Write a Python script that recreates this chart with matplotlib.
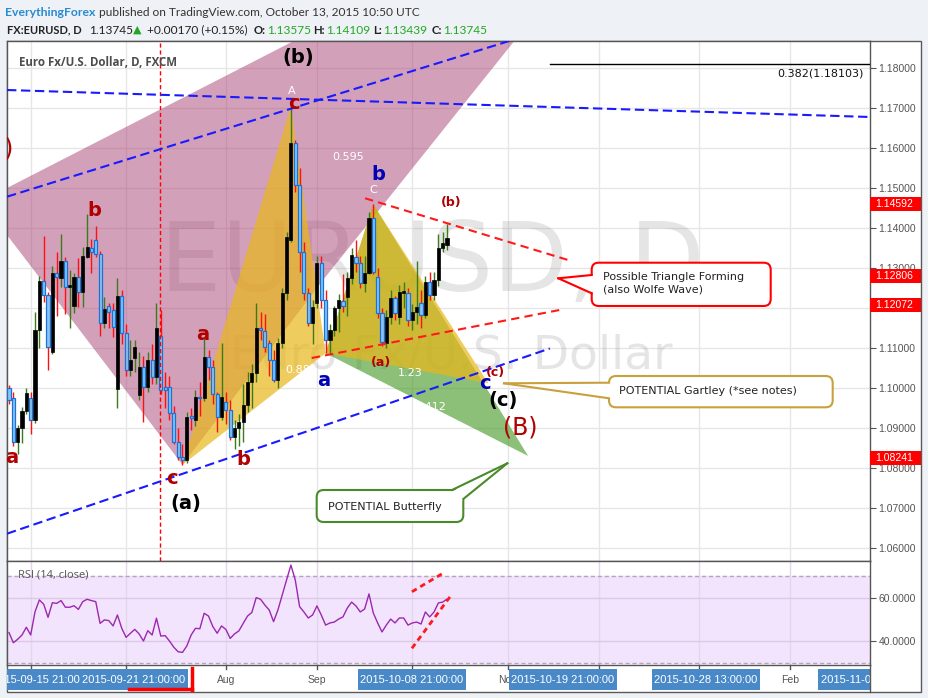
import matplotlib
matplotlib.use("Agg")
import matplotlib.pyplot as plt
import numpy as np
from matplotlib.patches import Rectangle, Polygon, FancyBboxPatch
from matplotlib.lines import Line2D
from matplotlib.transforms import (Affine2D, blended_transform_factory, Bbox,
                                   TransformedBbox, IdentityTransform)

W, H = 929, 698

# ---------------- data (daily EURUSD, 2015-05-25 .. 2015-10-13) ----------------
opens = [1.1000,1.0975,1.0865,1.0900,1.0943,1.0975,1.0920,1.1145,1.1268,1.1232,
         1.1090,1.1288,1.1275,1.1318,1.1253,1.1205,1.1278,1.1240,1.1328,1.1350,
         1.1370,1.1335,1.1162,1.1205,1.1195,1.0998,1.1230,1.1138,1.1045,1.1075,
         1.0983,1.1053,1.1003,1.1070,1.1028,1.1130,1.1003,1.1003,1.0938,1.0865,
         1.0828,1.0820,1.0930,1.0920,1.0978,1.0975,1.1078,1.1053,1.0985,1.0928,
         1.0965,1.0945,1.0878,1.0900,1.0915,1.0958,1.1015,1.1038,1.1150,1.1143,
         1.1113,1.1070,1.1020,1.1113,1.1238,1.1370,1.1612,1.1507,1.1340,1.1238,
         1.1162,1.1212,1.1312,1.1220,1.1120,1.1145,1.1200,1.1218,1.1228,1.1275,
         1.1328,1.1312,1.1262,1.1288,1.1425,1.1278,1.1188,1.1112,1.1178,1.1225,
         1.1178,1.1238,1.1238,1.1170,1.1190,1.1213,1.1183,1.1265,1.1233,1.1270,
         1.1350,1.13575]
highs = [1.1008,1.0990,1.0908,1.0953,1.1000,1.0990,1.1190,1.1280,1.1380,1.1240,
         1.1305,1.1340,1.1385,1.1328,1.1295,1.1288,1.1325,1.1353,1.1435,1.1373,
         1.1405,1.1343,1.1228,1.1213,1.1213,1.1275,1.1245,1.1160,1.1120,1.1120,
         1.1090,1.1080,1.1090,1.1110,1.1213,1.1195,1.1040,1.1030,1.0955,1.0900,
         1.0860,1.0940,1.0950,1.0995,1.1015,1.1125,1.1095,1.1070,1.0990,1.1113,
         1.0990,1.0970,1.0920,1.0935,1.1010,1.1040,1.1060,1.1213,1.1190,1.1185,
         1.1120,1.1095,1.1125,1.1250,1.1390,1.1705,1.1620,1.1550,1.1365,1.1250,
         1.1220,1.1330,1.1330,1.1245,1.1160,1.1205,1.1235,1.1285,1.1290,1.1350,
         1.1370,1.1330,1.1330,1.1440,1.1459,1.1300,1.1200,1.1195,1.1245,1.1230,
         1.1258,1.1265,1.1250,1.1210,1.1317,1.1245,1.1280,1.1290,1.1290,1.1385,
         1.1390,1.14109]
lows = [1.0960,1.0855,1.0835,1.0863,1.0935,1.0885,1.0912,1.1100,1.1215,1.1045,
        1.1085,1.1180,1.1252,1.1185,1.1150,1.1188,1.1203,1.1203,1.1325,1.1288,
        1.1328,1.1130,1.1150,1.1150,1.1128,1.0950,1.1110,1.1030,1.1030,1.1040,
        1.0970,1.0915,1.0990,1.1010,1.1010,1.0985,1.0950,1.0920,1.0860,1.0820,
        1.0808,1.0812,1.0895,1.0905,1.0930,1.0968,1.1020,1.0960,1.0890,1.0920,
        1.0910,1.0870,1.0848,1.0855,1.0865,1.0940,1.0950,1.1015,1.1120,1.1090,
        1.1030,1.1015,1.1000,1.1100,1.1220,1.1365,1.1490,1.1290,1.1220,1.1155,
        1.1110,1.1200,1.1200,1.1087,1.1087,1.1130,1.1140,1.1190,1.1180,1.1260,
        1.1290,1.1250,1.1240,1.1285,1.1285,1.1175,1.1105,1.1100,1.1160,1.1170,
        1.1160,1.1200,1.1155,1.1145,1.1160,1.1150,1.1175,1.1220,1.1220,1.1255,
        1.1340,1.13439]
closes = [1.0970,1.0865,1.0900,1.0943,1.0988,1.0920,1.1145,1.1268,1.1232,1.1102,
          1.1288,1.1278,1.1318,1.1253,1.1258,1.1278,1.1240,1.1330,1.1353,1.1340,
          1.1335,1.1162,1.1198,1.1190,1.1153,1.1230,1.1138,1.1045,1.1070,1.1103,
          1.1053,1.1003,1.1070,1.1028,1.1150,1.0995,1.0995,1.0938,1.0865,1.0828,
          1.0820,1.0928,1.0926,1.0978,1.0975,1.1078,1.1053,1.0985,1.0928,1.0978,
          1.0945,1.0878,1.0900,1.0915,1.0958,1.1015,1.1038,1.1150,1.1145,1.1103,
          1.1070,1.1020,1.1113,1.1238,1.1378,1.1612,1.1507,1.1340,1.1238,1.1162,
          1.1203,1.1312,1.1220,1.1120,1.1145,1.1200,1.1220,1.1205,1.1275,1.1332,
          1.1312,1.1262,1.1288,1.1425,1.1290,1.1188,1.1115,1.1178,1.1225,1.1188,
          1.1240,1.1242,1.1170,1.1190,1.1202,1.1183,1.1265,1.1233,1.1270,1.1350,
          1.1362,1.13745]
rsi = [43.9,39.2,40.8,42.8,46.4,42.8,53.6,59.1,57.1,51.0,
       57.8,57.5,58.8,55.7,55.7,56.4,54.7,58.3,59.4,58.8,
       58.3,48.2,49.8,49.5,47.0,52.1,45.9,41.7,43.6,45.4,
       43.3,40.0,44.8,42.8,50.6,42.3,42.5,40.0,37.1,35.0,
       34.7,37.7,42.8,45.9,45.7,52.9,51.6,46.7,43.6,47.0,
       45.4,41.2,43.3,44.7,48.2,51.6,53.3,60.2,59.4,56.7,
       54.4,49.0,54.4,61.4,68.4,75.3,68.4,56.0,53.5,50.7,
       52.1,56.3,52.1,47.4,48.4,48.8,50.2,51.2,55.3,58.1,
       56.3,53.5,54.9,61.9,53.0,48.4,44.2,47.4,50.2,48.4,
       50.7,50.7,47.4,48.4,48.8,47.9,53.5,51.2,53.5,57.7,
       58.1,59.5]

price_ticks = [1.06, 1.07, 1.08, 1.09, 1.10, 1.11, 1.12, 1.13, 1.14, 1.15, 1.16, 1.17, 1.18]
rsi_ticks = [40, 60]
month_idx = [5, 27, 50, 71, 93, 115, 136, 159, 180]
month_labels = ["Jun", "Jul", "Aug", "Sep", "Oct", "Nov", "Dec", "2016", "Feb"]
price_flags = [1.14592, 1.12806, 1.12072, 1.08241]
date_flags = ["2015-09-15 21:00:00", "2015-09-21 21:00:00", "2015-10-08 21:00:00",
              "2015-10-19 21:00:00", "2015-10-28 13:00:00", "2015-11-02 21:00:00"]
date_flag_px = [44, 134, 412, 563, 706, 872]

# drawings (day index, price)
pink_poly = [(-10, 1.1447), (151.9, 1.2347), (72.4, 1.1270), (40, 1.0808), (-10, 1.1518)]
gartley_xab = [(40, 1.0808), (65, 1.1705), (73, 1.1087)]
gartley_bcd = [(73, 1.1087), (84, 1.1459), (110.5, 1.1012)]
butterfly_bcd = [(73, 1.1087), (84, 1.1459), (119.7, 1.0830)]
blue_lines = [[(-0.46, 1.1745), (198.6, 1.16775)],
              [(-0.46, 1.14783), (125, 1.1900)],
              [(-0.46, 1.06358), (124.7, 1.10988)]]
red_lines = [[(82.1, 1.14743), (128.9, 1.1320)],
             [(69.8, 1.1075), (127.8, 1.11968)]]
rsi_red_lines = [[(92.9, 62.9), (99.8, 71.2)], [(92.9, 36.6), (101.7, 60.6)]]
fib_level = 1.18103
vline_idx = 34.8

idx = np.arange(len(opens))
O, Hh, L, C = map(np.array, (opens, highs, lows, closes))

# ---------------- figure ----------------
fig = plt.figure(figsize=(W / 100, H / 100), dpi=100, facecolor="#eef1f5")
PX = Affine2D().scale(1, -1).translate(0, H)

def fr(x0, y0, x1, y1):
    return [x0 / W, 1 - y1 / H, (x1 - x0) / W, (y1 - y0) / H]

fig.add_artist(Rectangle((7, 41), 914, 651, transform=PX, fc="white",
                         ec="#5a5a5a", lw=1, zorder=-5))

ax = fig.add_axes(fr(7, 41, 870, 561))
rax = fig.add_axes(fr(7, 561, 870, 665))
for a in (ax, rax):
    a.set_xlim(-0.461, 198.52)
    a.set_facecolor("white")
    for s in a.spines.values():
        s.set_color("#555555")
        s.set_linewidth(1)
ax.set_ylim(1.05675, 1.18675)
rax.set_ylim(28.84, 77.2)

AXF = "Liberation Sans"
UIF = "DejaVu Sans"

# axis ticks
ax.yaxis.tick_right()
ax.set_yticks(price_ticks)
ax.set_yticklabels([f"{p:.5f}" for p in price_ticks])
ax.set_xticks([])
ax.tick_params(axis="y", length=4, color="#555555", labelsize=7.5,
               labelcolor="#555555", pad=2)
for t in ax.get_yticklabels():
    t.set_family(AXF)
rax.yaxis.tick_right()
rax.set_yticks(rsi_ticks)
rax.set_yticklabels([f"{v:.4f}" for v in rsi_ticks])
rax.set_xticks([])
rax.tick_params(axis="y", length=4, color="#555555", labelsize=7.5,
                labelcolor="#555555", pad=2)
for t in rax.get_yticklabels():
    t.set_family(AXF)

# grid
for p in price_ticks:
    ax.axhline(p, color="#e6e6e6", lw=1, zorder=0)
for m in month_idx:
    ax.axvline(m, color="#e6e6e6", lw=1, zorder=0)

# watermark
ax.text(97.5, 1.1308, "EURUSD, D", fontsize=70, color="#808080", alpha=0.2,
        ha="center", va="center", family=UIF, zorder=0.5)
ax.text(102, 1.1080, "Euro Fx/U.S. Dollar", fontsize=34, color="#808080", alpha=0.2,
        ha="center", va="center", family=UIF, zorder=0.5)

# shapes
ax.add_patch(Polygon(pink_poly, closed=True, fc=(159/255, 44/255, 102/255), alpha=0.45,
                     ec="none", zorder=1))
ax.add_patch(Polygon(butterfly_bcd, closed=True, fc=(63/255, 150/255, 30/255), alpha=0.6,
                     ec="none", zorder=1.1))
for tri in (gartley_xab, gartley_bcd):
    ax.add_patch(Polygon(tri, closed=True, fc=(233/255, 183/255, 26/255), alpha=0.7,
                         ec="none", zorder=1.2))

# white pattern labels
for x, y, s, ha in [(65.3, 1.17425, "A", "center"), (83.9, 1.1495, "C", "center"),
                    (74.5, 1.15775, "0.595", "left"), (92.5, 1.10375, "1.23", "center"),
                    (63.6, 1.1045, "0.886", "left"), (101.0, 1.09525, "1.412", "right")]:
    ax.text(x, y, s, color="white", fontsize=8, ha=ha, va="center", family=UIF, zorder=1.5)

# candles
up = C >= O
wick_col = np.where(up, "#3d7a1c", "#ff1010")
ax.vlines(idx, L, Hh, colors=wick_col, lw=1, zorder=2)
body_bottom = np.minimum(O, C)
body_h = np.maximum(np.abs(C - O), 0.00025)
ax.bar(idx[up], body_h[up], bottom=body_bottom[up], width=0.72, color="black",
       edgecolor="black", lw=0.5, zorder=3)
ax.bar(idx[~up], body_h[~up], bottom=body_bottom[~up], width=0.72, color="#8cc3f0",
       edgecolor="#1a72d8", lw=0.9, zorder=3)

# lines
ax.axvline(vline_idx, color="#ff0000", lw=1, ls=(0, (3, 2)), zorder=4)
for seg in blue_lines:
    (x0, y0), (x1, y1) = seg
    ax.plot([x0, x1], [y0, y1], color="#1a1aff", lw=1.5, ls=(0, (4.5, 2.2)), zorder=4)
for seg in red_lines:
    (x0, y0), (x1, y1) = seg
    ax.plot([x0, x1], [y0, y1], color="#ff1a1a", lw=1.5, ls=(0, (4, 2.5)), zorder=4)
ax.plot([124.7, 198.6], [fib_level, fib_level], color="black", lw=1, zorder=4)
ax.text(197.0, fib_level - 0.0023, f"0.382({fib_level:.5f})", fontsize=8,
        ha="right", va="center", family=UIF, color="#111111", zorder=4)

ax.text(2.2, 1.0608 + 0.1206, "Euro Fx/U.S. Dollar, D, FXCM", fontsize=8.3,
        fontweight="bold", color="#4d4d4d", family="Open Sans", ha="left", va="center",
        zorder=6)

# wave labels
RED, BLUE, BLK = "#b00000", "#0000b4", "#000000"
labels = [
    (66.6, 1.1825, "(b)", BLK, 14, "bold"), (65.7, 1.17125, "c", RED, 14, "bold"),
    (85.1, 1.1535, "b", BLUE, 14, "bold"), (101.9, 1.1465, "(b)", RED, 9, "bold"),
    (19.6, 1.1445, "b", RED, 14, "bold"), (44.7, 1.1135, "a", RED, 14, "bold"),
    (0.7, 1.08275, "a", RED, 14, "bold"), (37.6, 1.0775, "c", RED, 14, "bold"),
    (40.8, 1.07125, "(a)", BLK, 14, "bold"), (54.0, 1.08225, "b", RED, 14, "bold"),
    (72.6, 1.1020, "a", BLUE, 14, "bold"), (85.8, 1.1065, "(a)", RED, 9, "bold"),
    (112.1, 1.1040, "(c)", RED, 9, "bold"), (109.8, 1.10125, "c", BLUE, 14, "bold"),
    (113.9, 1.0970, "(c)", BLK, 14, "bold"), (117.8, 1.09025, "(B)", RED, 17, "normal"),
]
for x, y, s, c, fs, fw in labels:
    ax.text(x, y, s, color=c, fontsize=fs, fontweight=fw, ha="center", va="center",
            family=UIF, zorder=5)
ax.text(1.0, 1.1600, "(A)", color=RED, fontsize=17, ha="right", va="center",
        family=UIF, zorder=5, clip_on=True)

# price flags on axis
BT = blended_transform_factory(ax.transAxes, ax.transData)
for p in price_flags:
    ax.add_patch(Rectangle((1.0, p - 0.00175), 51 / 863, 0.0035, transform=BT,
                           fc="#ff0000", ec="none", clip_on=False, zorder=10))
    ax.text(1.0 + 5 / 863, p, f"{p:.5f}", transform=BT, color="white", fontsize=7.5,
            va="center", ha="left", family=AXF, clip_on=False, zorder=11)

# ---------------- RSI ----------------
rax.axhspan(30, 70, color="#f3e4fd", zorder=0)
for v in rsi_ticks:
    rax.axhline(v, color="#dac8e6", lw=1, zorder=0.5)
for v in (30, 70):
    rax.axhline(v, color="#b3a6bb", lw=1, ls=(0, (3, 2)), zorder=0.6)
for m in month_idx:
    rax.axvline(m, color="#e2d6ea", lw=1, zorder=0.4)
rax.plot(idx, rsi, color="#9c27b0", lw=1, zorder=2)
for seg in rsi_red_lines:
    (x0, y0), (x1, y1) = seg
    rax.plot([x0, x1], [y0, y1], color="#ff1a1a", lw=2, ls=(0, (2, 1.5)), zorder=3)
rax.text(2.0, 70.6, "RSI (14, close)", fontsize=8, color="#555555", family="Open Sans",
         ha="left", va="center", zorder=4)

# ---------------- x axis row ----------------
XT = blended_transform_factory(ax.transData, PX)
for m, lab in zip(month_idx, month_labels):
    fig.add_artist(Line2D([m, m], [665, 669], transform=XT, color="#555555", lw=1))
    fig.text(m, 680, lab, transform=XT, ha="center", va="center", fontsize=7.5,
             color="#555555", family=AXF, zorder=3)
clipbox = TransformedBbox(Bbox([[7, 0], [870, H]]), IdentityTransform())
for k, (lab, cx) in enumerate(zip(date_flags, date_flag_px)):
    r = Rectangle((cx - 54, 669), 108, 21, transform=PX, fc="#4a89c8", ec="none",
                  zorder=4 + 2 * k)
    fig.add_artist(r)
    r.set_clip_box(clipbox)
    r.set_clip_on(True)
    t = fig.text(cx, 680, lab, transform=PX, ha="center", va="center", fontsize=8,
                 color="white", family=AXF, zorder=5 + 2 * k)
    t.set_clip_box(clipbox)
    t.set_clip_on(True)
fig.add_artist(Line2D([129, 192], [689, 689], transform=PX, color="#ff0000", lw=2.5, zorder=18))
fig.add_artist(Line2D([191.5, 191.5], [668, 690], transform=PX, color="#ff0000", lw=2.5, zorder=18))
fig.add_artist(Line2D([870, 870], [665, 692], transform=PX, color="#555555", lw=1, zorder=18))

# ---------------- callouts ----------------
def callout(box, tip, b1, b2, inset, color, lines, txy):
    x0, y0, x1, y1 = box
    fig.add_artist(FancyBboxPatch((x0, y0), x1 - x0, y1 - y0,
                                  boxstyle="round,pad=0,rounding_size=7", transform=PX,
                                  fc="white", ec=color, lw=1.5, zorder=20))
    ib1 = (b1[0] + inset[0], b1[1] + inset[1])
    ib2 = (b2[0] + inset[0], b2[1] + inset[1])
    fig.add_artist(Polygon([tip, ib1, ib2], closed=True, transform=PX, fc="white",
                           ec="none", zorder=21))
    for b in (b1, b2):
        fig.add_artist(Line2D([tip[0], b[0]], [tip[1], b[1]], transform=PX, color=color,
                              lw=1.5, zorder=22))
    for i, s in enumerate(lines):
        fig.text(txy[0], txy[1] + i * 12.5, s, transform=PX, fontsize=8, color="#222222",
                 family=UIF, ha="left", va="center", zorder=23)

callout((591.7, 262.7, 770.7, 306), (558.3, 278.3), (591.7, 275), (591.7, 293.3), (3, 0),
        "#ff0000", ["Possible Triangle Forming", "(also Wolfe Wave)"], (602.7, 277))
callout((609, 376, 832.7, 407.3), (504, 383.3), (609, 382.7), (609, 398.3), (3, 0),
        "#c8a03c", ["POTENTIAL Gartley (*see notes)"], (619, 391))
callout((316.7, 490, 463.3, 522), (507.3, 463.3), (452, 490), (463.3, 499), (-3, 3),
        "#4a8a2a", ["POTENTIAL Butterfly"], (327.7, 506.7))

# ---------------- header ----------------
HF = "Lato"
def htxt(x, y, s, color="#222222", weight="normal", fam=HF, size=8.6):
    fig.text(x, y, s, transform=PX, fontsize=size, color=color, fontweight=weight,
             family=fam, ha="left", va="center")

GREEN = "#22a822"
htxt(5, 12.5, "EverythingForex", color="#2a8bd0", weight="bold", size=8.8)
htxt(99, 12.5, "published on TradingView.com, October 13, 2015 10:50 UTC", color="#333333")
htxt(7, 30, "FX:EURUSD, D", weight="bold", size=8.0)
htxt(89, 30, "1.13745")
htxt(133, 30, "\u25b2", color=GREEN, fam=UIF, size=8)
htxt(147, 30, "+0.00170 (+0.15%)")
htxt(254, 30, "O:", weight="bold", size=8.2)
htxt(267, 30, "1.13575", color=GREEN)
htxt(313, 30, "H:", weight="bold", size=8.2)
htxt(326, 30, "1.14109", color=GREEN)
htxt(373, 30, "L:", weight="bold", size=8.2)
htxt(383, 30, "1.13439", color=GREEN)
htxt(432, 30, "C:", weight="bold", size=8.2)
htxt(443, 30, "1.13745", color=GREEN)

fig.savefig("out.png", dpi=100, facecolor=fig.get_facecolor())
